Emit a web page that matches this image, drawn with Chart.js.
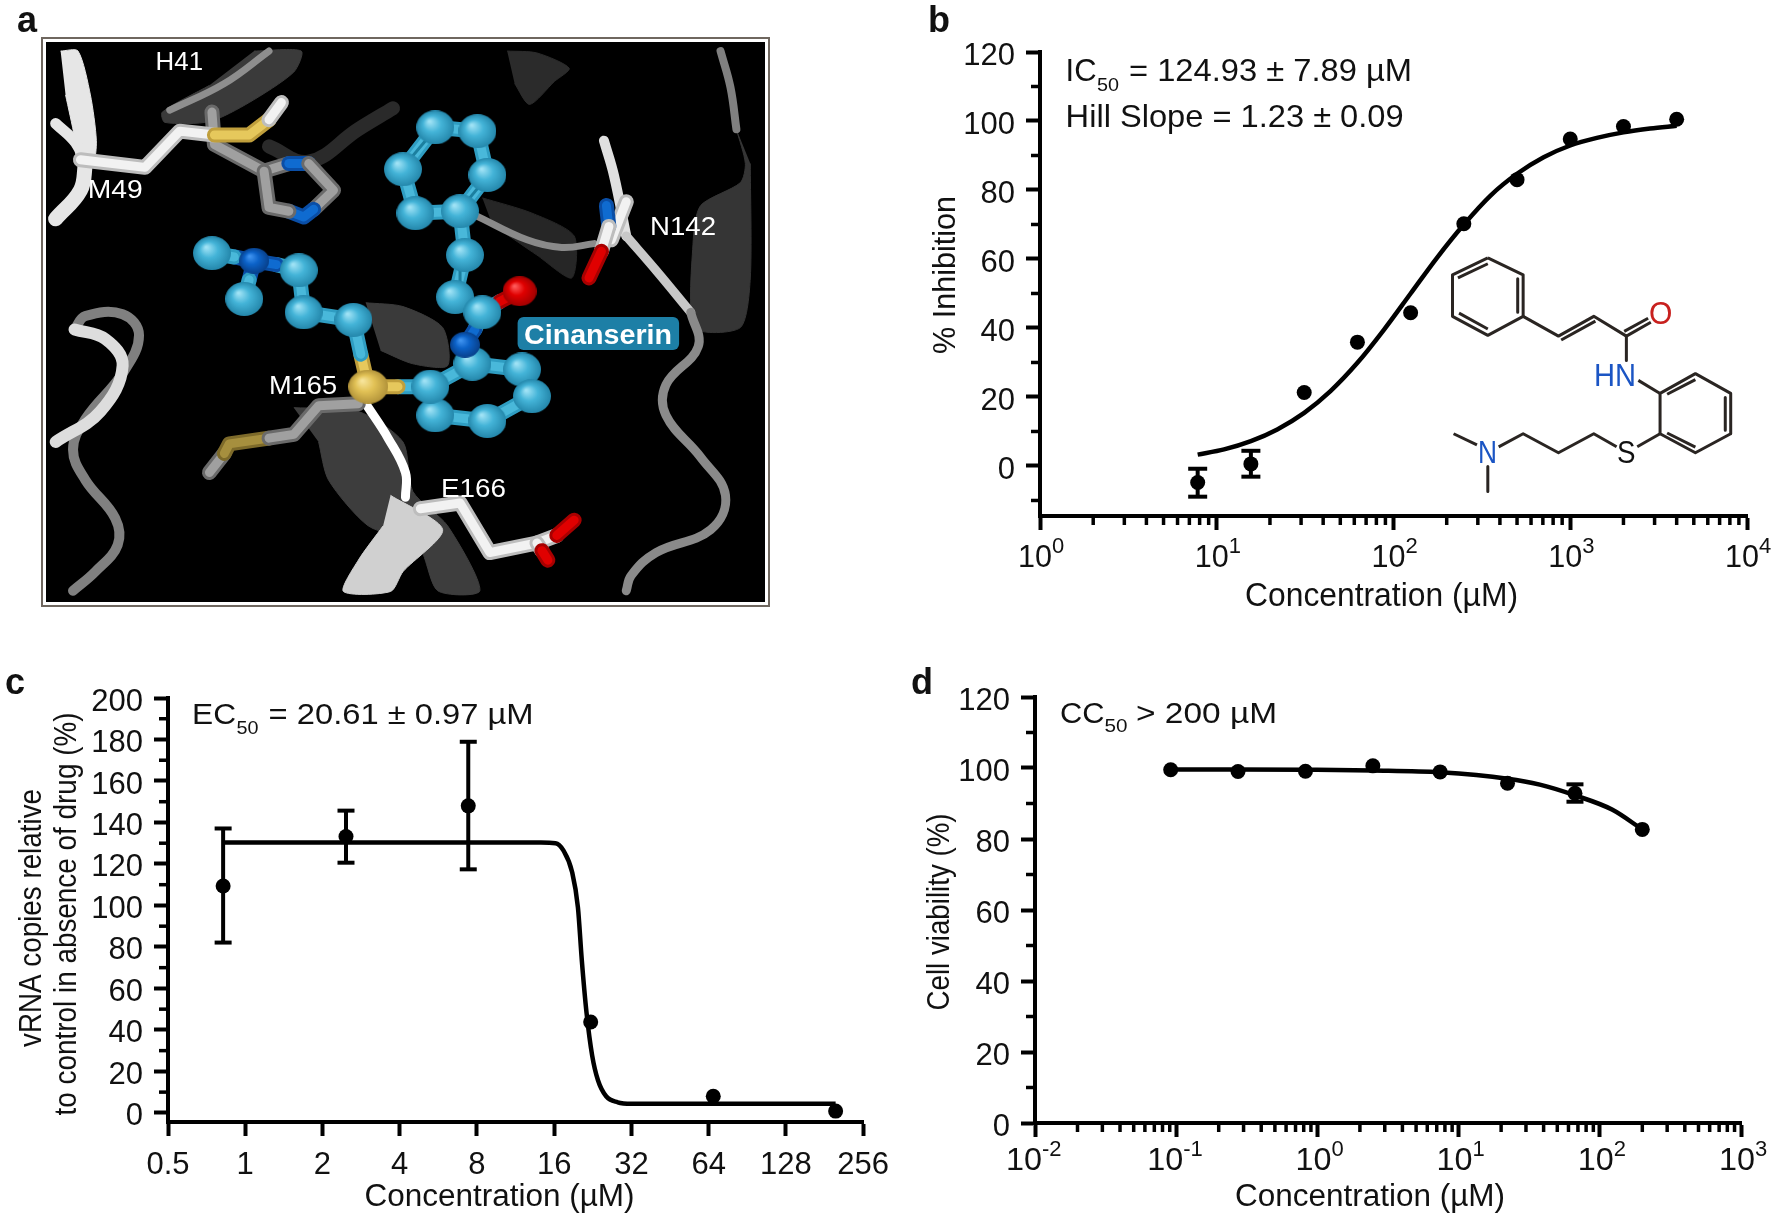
<!DOCTYPE html>
<html>
<head>
<meta charset="utf-8">
<title>Cinanserin</title>
<script src="https://cdn.jsdelivr.net/npm/chart.js@4"></script>
<style>
  html, body { margin: 0; background: #fff; overflow: hidden; }
  canvas { position: absolute; }
</style>
</head>
<body>
<canvas id="panelA" width="800" height="620" style="left:0;top:0"></canvas>
<canvas id="panelB" width="852" height="620" style="left:920px;top:0"></canvas>
<canvas id="structure" width="852" height="620" style="left:920px;top:0"></canvas>
<canvas id="panelC" width="900" height="554" style="left:0;top:660px"></canvas>
<canvas id="panelD" width="872" height="554" style="left:900px;top:660px"></canvas>
<script>
//------------------- panel b data -------------------
var concB = [7.8, 15.6, 31.25, 62.5, 125, 250, 500, 1000, 2000, 4000];
var inhibB = [-4.8, 0.6, 21.3, 35.9, 44.4, 70.2, 83, 94.8, 98.4, 100.5];
var errConcB = [7.8, 15.6];
var errLowB = [-8.9, -3.1];
var errHighB = [-0.8, 4.4];
var fitConcB = [7.8, 11, 15.6, 22, 31.25, 44, 62.5, 88, 125, 177, 250, 354, 500, 707, 1000, 1414, 2000, 2828, 4000];
var fitB = [3.3, 4.8, 7.2, 10.6, 15.4, 21.7, 29.9, 39.4, 50, 60.5, 70, 78.4, 84.7, 89.5, 92.9, 95.1, 96.7, 97.8, 98.6];
var xTicksB = [1, 10, 100, 1000, 10000];
var xExpB = ["0", "1", "2", "3", "4"];
var yTicksB = [0, 20, 40, 60, 80, 100, 120];
var yMinorB = [-10, 10, 30, 50, 70, 90, 110];

//------------------- panel c data -------------------
var concC = [0.82, 2.47, 7.4, 22.2, 66.7, 200];
var copiesC = [109.4, 133.2, 148, 43.8, 8, 0.85];
var errConcC = [0.82, 2.47, 7.4];
var errLowC = [82.1, 120.6, 117.4];
var errHighC = [137.1, 145.7, 178.9];
var fitConcC = [0.82, 2, 5, 10, 14.2, 16.2, 17.4, 18.8, 19.8, 20.5, 21.4, 22.5, 23.7, 25.5, 28.3, 32, 64, 128, 200];
var fitC = [130.3, 130.3, 130.3, 130.3, 130.3, 130, 126.4, 116, 99, 73.6, 48, 27.6, 15.7, 8, 5.1, 4.4, 4.4, 4.4, 4.4];
var xTicksC = [0.5, 1, 2, 4, 8, 16, 32, 64, 128, 256];
var yTicksC = [0, 20, 40, 60, 80, 100, 120, 140, 160, 180, 200];
var yMinorC = [10, 30, 50, 70, 90, 110, 130, 150, 170, 190];

//------------------- panel d data -------------------
var concD = [0.0914, 0.274, 0.823, 2.47, 7.4, 22.2, 66.7, 200];
var viabD = [99.5, 99, 99.1, 100.6, 98.9, 95.7, 92.9, 82.7];
var errConcD = [66.7];
var errLowD = [90.5];
var errHighD = [95.4];
var fitConcD = [0.0914, 0.274, 0.823, 2.47, 7.4, 22.2, 37.6, 66.7, 122, 200];
var fitD = [99.6, 99.6, 99.5, 99.3, 98.8, 97, 95.3, 92.3, 88.3, 82.7];
var xTicksD = [0.01, 0.1, 1, 10, 100, 1000];
var xExpD = ["-2", "-1", "0", "1", "2", "3"];
var yTicksD = [0, 20, 40, 60, 80, 100, 120];
var yMinorD = [10, 30, 50, 70, 90, 110];

//------------------- panel a shapes (crop coordinates) -------------------
var sheets = [
  ["#2b2b2b", [[1000,105],[1060,110],[1125,150],[1095,185],[1045,245],[1015,190]]],
  ["#353535", [[1462,310],[1480,400],[1470,450],[1390,510],[1375,600],[1378,830],[1470,830],[1490,700],[1490,400]]],
  ["#3a3a3a", [[490,105],[585,105],[570,160],[480,240],[400,290],[310,292],[305,265],[400,195]]],
  ["#262626", [[950,490],[1050,530],[1135,590],[1130,700],[1060,640],[970,560]]],
  ["#3a3a3a", [[715,765],[790,775],[870,830],[880,930],[810,925],[745,890]]],
  ["#3d3d3d", [[570,1040],[700,1050],[790,1130],[810,1260],[880,1350],[945,1520],[860,1520],[820,1400],[720,1350],[640,1230],[620,1130]]],
  ["#d0d0d0", [[765,1270],[870,1360],[790,1470],[765,1522],[670,1522],[700,1440],[750,1350]]],
  ["#e6e6e6", [[100,105],[135,105],[160,220],[172,340],[165,400],[135,395],[128,330],[110,220]]]
];
var ribbons = [
  ["#8e8e8e", 7, [[520,105],[430,190],[320,260]]],
  ["#2a2a2a", 14, [[520,355],[600,395],[700,310],[770,255]]],
  ["#e6e6e6", 11, [[90,295],[130,345],[150,400]]],
  ["#e6e6e6", 15, [[150,400],[140,470],[90,545]]],
  ["#808080", 8, [[1430,105],[1450,200],[1462,310]]],
  ["#e0e0e0", 10, [[1195,340],[1215,430],[1240,590]]],
  ["#c8c8c8", 9, [[1240,590],[1300,680],[1370,790]]],
  ["#8a8a8a", 9, [[1370,790],[1385,880],[1320,980],[1320,1060],[1390,1170],[1440,1270],[1410,1360],[1300,1420],[1250,1480],[1240,1520]]],
  ["#8a8a8a", 7, [[935,535],[1040,600],[1110,620],[1175,610]]],
  ["#808080", 10, [[128,835],[150,800],[225,795],[258,850],[225,950],[150,1070],[125,1150],[150,1230],[210,1330],[215,1400],[170,1470],[125,1520]]],
  ["#dddddd", 12, [[90,1130],[180,1050],[225,930],[190,860],[128,835]]],
  ["#ffffff", 9, [[715,1030],[760,1120],[795,1210],[795,1275]]]
];
var sticks = [
  ["gray", [[405,265],[410,350],[510,420],[560,400]]],
  ["blue", [[560,400],[600,400]]],
  ["gray", [[600,400],[650,470],[610,520]]],
  ["blue", [[610,520],[590,540],[560,525]]],
  ["gray", [[560,525],[520,515],[510,420]]],
  ["white", [[140,390],[270,410],[340,315],[410,325]]],
  ["yellow", [[410,325],[480,325],[520,285]]],
  ["white", [[520,285],[545,240]]],
  ["white", [[1240,500],[1210,600]]],
  ["blue", [[1200,510],[1205,565]]],
  ["white", [[1205,565],[1190,630]]],
  ["red", [[1190,630],[1165,700]]],
  ["gray", [[400,1210],[430,1160]]],
  ["olive", [[430,1160],[440,1135],[520,1120]]],
  ["gray", [[520,1120],[570,1110],[620,1035],[700,1030]]],
  ["white", [[825,1305],[905,1290],[965,1420],[1060,1395],[1100,1375]]],
  ["red", [[1100,1375],[1135,1335]]],
  ["white", [[1060,1395],[1070,1415]]],
  ["red", [[1070,1415],[1082,1440]]],
  ["cyan", [[855,305],[940,315],[960,430],[905,525],[815,530],[790,415],[855,305]]],
  ["cyan", [[905,525],[915,640],[895,750],[950,790]]],
  ["cyan", [[950,790],[985,762]]],
  ["red", [[985,762],[1025,735]]],
  ["cyan", [[950,790],[935,835]]],
  ["blue", [[935,835],[915,875],[922,900]]],
  ["cyan", [[922,900],[930,925]]],
  ["cyan", [[930,925],[1030,940],[1050,1010],[960,1075],[855,1060],[845,985],[930,925]]],
  ["cyan", [[845,985],[780,985]]],
  ["yellow", [[780,985],[720,985],[705,900]]],
  ["cyan", [[705,900],[690,810],[590,790],[580,680],[535,665]]],
  ["blue", [[535,665],[490,655],[450,645]]],
  ["cyan", [[450,645],[405,635]]],
  ["blue", [[490,655],[480,705]]],
  ["cyan", [[480,705],[470,755]]]
];
var doubleBonds = [
  [[800,395],[845,325]], [[915,505],[950,450]], [[905,640],[905,750]]
];
var cyanAtoms = [[855,305],[940,315],[960,430],[905,525],[815,530],[790,415],[915,640],[895,750],[950,790],
  [930,925],[1030,940],[1050,1010],[960,1075],[855,1060],[845,985],[690,810],[590,790],[580,680],[405,635],[470,755]];
var redAtoms = [[1025,735]];
var blueAtoms = [[915,875],[490,655]];
var yellowAtoms = [[720,985]];

//------------------- chemical structure (crop coordinates) -------------------
var bonds = [
  [[1045,652],[1110,695],[1110,800],[1045,848],[980,800],[980,695],[1045,652]],
  [[990,703],[1045,667]], [[1100,705],[1100,790]], [[992,792],[1045,832]],
  [[1110,800],[1175,850],[1240,800],[1300,850]],
  [[1180,860],[1243,812]],
  [[1300,850],[1345,815]], [[1296,838],[1340,805]],
  [[1300,850],[1300,912]],
  [[1322,962],[1362,995]],
  [[1362,995],[1427,945],[1492,995],[1492,1097],[1427,1145],[1362,1097],[1362,995]],
  [[1375,997],[1427,960]], [[1482,1005],[1482,1088]], [[1375,1095],[1427,1131]],
  [[1362,1097],[1320,1130]],
  [[1282,1130],[1240,1097],[1175,1145],[1110,1097],[1065,1130]],
  [[1025,1125],[982,1097]],
  [[1045,1180],[1045,1243]]
];

// tube colours: edge and highlight
var tubeColors = {
  white: ["#bdbdbd", "#f2f2f2"], gray: ["#6a6a6a", "#a0a0a0"], cyan: ["#2f9dc2", "#49b8da"],
  blue: ["#0a4ea6", "#0f6bd0"], red: ["#a80000", "#e00000"], yellow: ["#c09f3c", "#e6c85c"], olive: ["#7d6a2a", "#a68f3e"]
};

function logMinors(fromExp, toExp) {
  var out = [];
  for (var e = fromExp; e < toExp; e++) {
    for (var m = 2; m < 10; m++) out.push(m * Math.pow(10, e));
  }
  return out;
}

function pairs(xs, ys) {
  return xs.map((x, i) => ({x: x, y: ys[i]}));
}

//draws text from page coordinates, optionally stretched to a width
const panelText = {
  id: "panelText",
  afterDatasetsDraw(chart, args, opts) {
    const ctx = chart.ctx;
    const left = chart.canvas.offsetLeft, top = chart.canvas.offsetTop;
    (opts.items || []).forEach(it => {
      ctx.save();
      if (it.box) {
        ctx.fillStyle = it.color;
        ctx.beginPath();
        ctx.roundRect(it.x - left, it.y - top, it.bw, it.bh, 6);
        ctx.fill();
        ctx.restore();
        return;
      }
      let x = it.x;
      if (it.tick !== undefined) x = chart.scales.x.getPixelForValue(it.tick) + left + it.dx;
      ctx.font = (it.weight || "normal") + " " + it.size + 'px "Liberation Sans"';
      ctx.fillStyle = it.color || "#111";
      ctx.textBaseline = "alphabetic";
      ctx.translate(x - left, it.y - top);
      if (it.rot) ctx.rotate(it.rot);
      if (it.w) ctx.scale(it.w / ctx.measureText(it.t).width, 1);
      ctx.textAlign = it.center ? "center" : "left";
      ctx.fillText(it.t, 0, 0);
      ctx.restore();
    });
  }
};

//short ticks, the long ones are the normal chart ticks
const minorTicks = {
  id: "minorTicks",
  afterDatasetsDraw(chart, args, opts) {
    const ctx = chart.ctx, xs = chart.scales.x, ys = chart.scales.y;
    ctx.save();
    ctx.strokeStyle = "#000";
    ctx.lineWidth = 3.5;
    (opts.x || []).forEach(v => {
      const p = xs.getPixelForValue(v);
      ctx.beginPath(); ctx.moveTo(p, ys.bottom); ctx.lineTo(p, ys.bottom + 9); ctx.stroke();
    });
    (opts.y || []).forEach(v => {
      const p = ys.getPixelForValue(v);
      ctx.beginPath(); ctx.moveTo(xs.left, p); ctx.lineTo(xs.left - 9, p); ctx.stroke();
    });
    ctx.restore();
  }
};

Chart.register(panelText, minorTicks);

function txt(t, x, y, size, w, extra) {
  return Object.assign({t: t, x: x, y: y, size: size, w: w}, extra || {});
}

// "10" with the exponent, placed on the x scale
function powerItems(ticks, exps, base, width, size) {
  var out = [];
  ticks.forEach((v, i) => {
    var dx = exps[i][0] === "-" ? -29 : -22;
    out.push({t: "10", tick: v, dx: dx, y: base, size: size, w: width});
    out.push({t: exps[i], tick: v, dx: dx + width, y: base - 14, size: 22});
  });
  return out;
}

function errorSets(xs, lows, highs, capRadius) {
  return xs.map((x, i) => ({
    data: [{x: x, y: lows[i]}, {x: x, y: highs[i]}],
    showLine: true, clip: false,
    borderColor: "#000", borderWidth: 4,
    pointStyle: "line", pointRadius: capRadius, pointBorderWidth: 4, pointBorderColor: "#000"
  }));
}

function drawCurve(opts) {
  return new Chart(opts.id, {
    type: "scatter",
    data: {
      datasets: [
        {data: pairs(opts.xs, opts.ys), clip: false, pointRadius: 7.5, pointBackgroundColor: "#000", pointBorderWidth: 0},
        {data: pairs(opts.fitX, opts.fitY), clip: false, showLine: true, pointRadius: 0, borderColor: "#000", borderWidth: 4.5, cubicInterpolationMode: "monotone"}
      ].concat(opts.errors)
    },
    options: {
      responsive: false,
      animation: false,
      events: [],
      layout: {autoPadding: false, padding: {top: opts.top, right: opts.right, left: 0, bottom: 0}},
      plugins: {
        legend: {display: false},
        tooltip: {enabled: false},
        panelText: {items: opts.items},
        minorTicks: {x: opts.minorX, y: opts.minorY}
      },
      scales: {
        x: {
          type: "logarithmic", min: opts.xMin, max: opts.xMax,
          afterBuildTicks: s => { s.ticks = opts.xTicks.map(v => ({value: v})); },
          afterFit: s => { s.height = opts.xSpace; },
          border: {color: "#000", width: 4},
          grid: {drawOnChartArea: false, tickColor: "#000", tickWidth: 4, tickLength: 14},
          ticks: {
            autoSkip: false, maxRotation: 0, padding: 11, color: "#111",
            font: {family: "Liberation Sans", size: 31},
            callback: v => opts.plainX ? String(v) : ""
          }
        },
        y: {
          min: opts.yMin, max: opts.yMax,
          afterBuildTicks: s => { s.ticks = opts.yTicks.map(v => ({value: v})); },
          afterFit: s => { s.width = opts.ySpace; },
          border: {color: "#000", width: 4},
          grid: {drawOnChartArea: false, tickColor: "#000", tickWidth: 4, tickLength: 14},
          ticks: {
            autoSkip: false, padding: 11, color: "#111", labelOffset: 4,
            font: {family: "Liberation Sans", size: 31},
            callback: v => String(v)
          }
        }
      }
    }
  });
}

//------- panel b -------
drawCurve({
  id: "panelB", xs: concB, ys: inhibB, fitX: fitConcB, fitY: fitB,
  errors: errorSets(errConcB, errLowB, errHighB, 9.5),
  xMin: 1, xMax: 10000, yMin: -14.5, yMax: 120,
  xTicks: xTicksB, yTicks: yTicksB, minorX: logMinors(0, 4), minorY: yMinorB,
  top: 52, right: 25, xSpace: 104, ySpace: 120,
  items: [
    txt("b", 928, 32, 36, 0, {weight: "bold"}),
    txt("IC", 1065.6, 81, 32, 31),
    txt("50", 1097, 91, 19, 22),
    txt("= 124.93 ± 7.89 µM", 1129, 81, 32, 283),
    txt("Hill Slope = 1.23 ± 0.09", 1065.6, 127, 32, 338),
    txt("Concentration (µM)", 1245, 606, 33, 273),
    txt("% Inhibition", 955, 275, 32, 158, {rot: -Math.PI / 2, center: true})
  ].concat(powerItems(xTicksB, xExpB, 567, 34, 32))
});

//------- panel c -------
drawCurve({
  id: "panelC", xs: concC, ys: copiesC, fitX: fitConcC, fitY: fitC,
  errors: errorSets(errConcC, errLowC, errHighC, 8.5),
  xMin: 0.5, xMax: 256, yMin: -4.4, yMax: 200,
  xTicks: xTicksC, yTicks: yTicksC, minorX: [], minorY: yMinorC,
  top: 38, right: 29, xSpace: 92, ySpace: 168, plainX: true,
  items: [
    txt("c", 5, 694, 36, 0, {weight: "bold"}),
    txt("EC", 192, 724, 30, 44),
    txt("50", 236.5, 733.5, 19, 22),
    txt("= 20.61 ± 0.97 µM", 268.6, 724, 30, 265),
    txt("Concentration (µM)", 364.5, 1206, 31, 270),
    txt("vRNA copies relative", 41, 918, 31, 258, {rot: -Math.PI / 2, center: true}),
    txt("to control in absence of drug (%)", 76, 914, 31, 403, {rot: -Math.PI / 2, center: true})
  ]
});

//------- panel d -------
drawCurve({
  id: "panelD", xs: concD, ys: viabD, fitX: fitConcD, fitY: fitD,
  errors: errorSets(errConcD, errLowD, errHighD, 8.5),
  xMin: 0.01, xMax: 1000, yMin: 0, yMax: 120,
  xTicks: xTicksD, yTicks: yTicksD, minorX: logMinors(-2, 3), minorY: yMinorD,
  top: 37, right: 31, xSpace: 91, ySpace: 135,
  items: [
    txt("d", 911, 694, 36, 0, {weight: "bold"}),
    txt("CC", 1060, 723, 30, 44.5),
    txt("50", 1104.6, 732, 19, 23),
    txt("> 200 µM", 1136, 723, 30, 141),
    txt("Concentration (µM)", 1235, 1206, 31, 270),
    txt("Cell viability (%)", 949, 912, 31, 197, {rot: -Math.PI / 2, center: true})
  ].concat(powerItems(xTicksD, xExpD, 1170, 36, 31))
});

//------- illustrations: hidden axes in crop coordinates -------
function illustrationOptions(items) {
  return {
    responsive: false,
    animation: false,
    events: [],
    layout: {padding: 0},
    plugins: {legend: {display: false}, tooltip: {enabled: false}, panelText: {items: items}, minorTicks: {}},
    scales: {
      x: {type: "linear", display: false, min: 0, max: 1568},
      y: {type: "linear", display: false, min: 0, max: 1568, reverse: true}
    }
  };
}

function xy(list) {
  return list.map(p => ({x: p[0], y: p[1]}));
}

// shaded ball for the atoms
function sphere(light, base, dark, rx, ry) {
  const c = document.createElement("canvas");
  c.width = rx * 2; c.height = ry * 2;
  const g = c.getContext("2d");
  g.translate(rx, ry);
  g.scale(rx, ry);
  const grad = g.createRadialGradient(-0.3, -0.35, 0.05, 0, 0, 1);
  grad.addColorStop(0, light);
  grad.addColorStop(0.45, base);
  grad.addColorStop(1, dark);
  g.fillStyle = grad;
  g.beginPath(); g.arc(0, 0, 1, 0, Math.PI * 2); g.fill();
  return c;
}

function atomSet(list, img) {
  return {data: xy(list), pointStyle: img, pointRadius: 10, showLine: false};
}

var molSets = [];
sheets.forEach(s => {
  molSets.push({data: xy(s[1]), showLine: true, fill: "shape", tension: 0.25, backgroundColor: s[0], borderColor: s[0], borderWidth: 1, pointRadius: 0});
});
ribbons.forEach(r => {
  molSets.push({data: xy(r[2]), showLine: true, tension: 0.4, borderColor: r[0], borderWidth: r[1], borderCapStyle: "round", pointRadius: 0});
});
sticks.forEach(s => {
  const col = tubeColors[s[0]];
  molSets.push({data: xy(s[1]), showLine: true, borderColor: col[0], borderWidth: 15, borderCapStyle: "round", borderJoinStyle: "round", pointRadius: 0});
  molSets.push({data: xy(s[1]), showLine: true, borderColor: col[1], borderWidth: 9, borderCapStyle: "round", borderJoinStyle: "round", pointRadius: 0});
});
doubleBonds.forEach(b => {
  molSets.push({data: xy(b), showLine: true, borderColor: "#1c7f9f", borderWidth: 3, pointRadius: 0});
});
molSets.push(atomSet(cyanAtoms, sphere("#9fe2f5", "#44b4d8", "#2487ab", 19, 17)));
molSets.push(atomSet(redAtoms, sphere("#ff5a5a", "#e00000", "#a00000", 17, 15)));
molSets.push(atomSet(blueAtoms, sphere("#3f93f0", "#0c62c8", "#08408a", 15, 13)));
molSets.push(atomSet(yellowAtoms, sphere("#f7e49a", "#e2c256", "#b2933a", 20, 17)));
// first dataset is drawn on top, so turn the order round
molSets.forEach((d, i) => { d.order = molSets.length - i; });

const frameBackground = {
  id: "frameBackground",
  beforeDatasetsDraw(chart) {
    const ctx = chart.ctx;
    ctx.save();
    ctx.strokeStyle = "#6f675f";
    ctx.lineWidth = 2;
    ctx.strokeRect(42, 38, 727, 568);
    ctx.fillStyle = "#000";
    ctx.fillRect(46, 42, 719, 560);
    ctx.restore();
  }
};

new Chart("panelA", {
  type: "scatter",
  data: {datasets: molSets},
  plugins: [frameBackground],
  options: illustrationOptions([
    txt("a", 17, 32, 36, 0, {weight: "bold"}),
    {box: true, x: 517.6, y: 317, bw: 161.5, bh: 33, color: "#1d7fa6"},
    txt("Cinanserin", 524, 344, 28, 148, {weight: "bold", color: "#fff"}),
    txt("H41", 155.6, 70, 26, 47.4, {color: "#fff"}),
    txt("M49", 87.7, 197.7, 26, 55, {color: "#fff"}),
    txt("N142", 650, 235, 26, 66, {color: "#fff"}),
    txt("M165", 269, 394, 26, 68, {color: "#fff"}),
    txt("E166", 441, 497, 26, 65, {color: "#fff"})
  ])
});

new Chart("structure", {
  type: "scatter",
  data: {
    datasets: bonds.map(b => ({data: xy(b), showLine: true, borderColor: "#2a2522", borderWidth: 3, borderJoinStyle: "round", pointRadius: 0}))
  },
  options: illustrationOptions([
    txt("O", 1649, 324, 31, 23.4, {color: "#c8201e"}),
    txt("HN", 1594, 385.5, 31, 42, {color: "#1b55c4"}),
    txt("N", 1478, 463, 31, 19, {color: "#1b55c4"}),
    txt("S", 1617, 463, 31, 18.5)
  ])
});
</script>
</body>
</html>
